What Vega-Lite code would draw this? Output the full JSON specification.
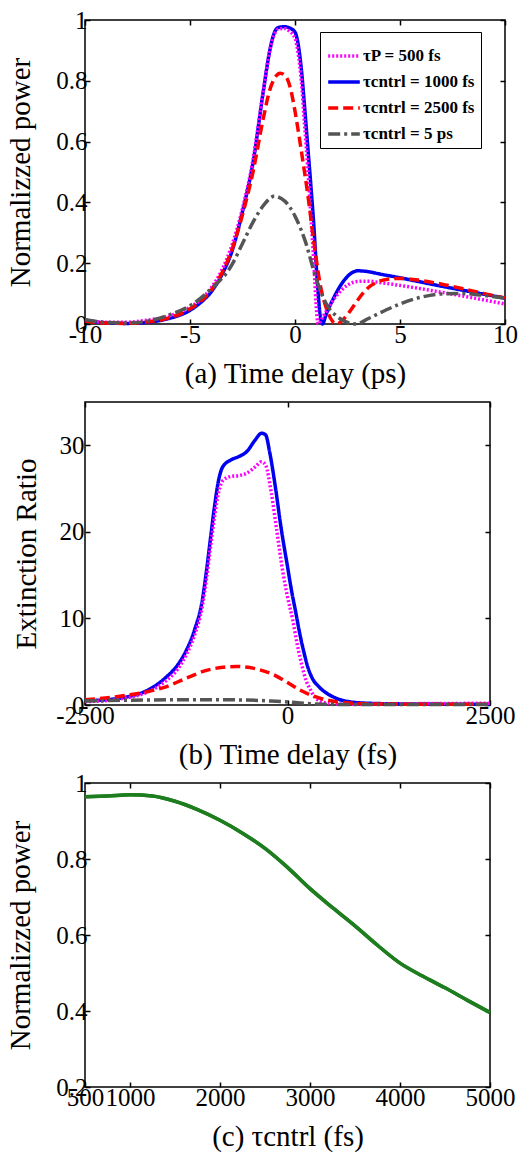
{
  "$schema": "https://vega.github.io/schema/vega-lite/v6.json",
  "background": "white",
  "padding": {"left": 6, "top": 7, "right": 0, "bottom": 0},
  "bounds": "flush",
  "spacing": 78,
  "config": {
    "font": "Liberation Serif, Times New Roman, serif",
    "view": {"stroke": "black", "strokeWidth": 1.5},
    "axis": {
      "domain": false, "grid": false, "tickColor": "black", "tickSize": -5, "tickWidth": 1.5,
      "labelFont": "Liberation Serif, Times New Roman, serif", "labelFontSize": 25, "labelColor": "black", "labelPadding": 3,
      "labelFlush": false, "labelOverlap": false, "labelBound": false,
      "titleFont": "Liberation Serif, Times New Roman, serif", "titleFontSize": 29, "titleFontWeight": "normal", "titleColor": "black", "titlePadding": 12
    },
    "axisLeft": {"titlePadding": 20},
    "line": {"strokeWidth": 3.5, "interpolate": "monotone"}
  },
  "datasets": {
    "a": [
      {"s": "c1000", "t": -10, "p": 0.012}, {"s": "c1000", "t": -9, "p": 0.004}, {"s": "c1000", "t": -8, "p": 0.002},
      {"s": "c1000", "t": -7, "p": 0.006}, {"s": "c1000", "t": -6, "p": 0.018}, {"s": "c1000", "t": -5, "p": 0.045},
      {"s": "c1000", "t": -4.5, "p": 0.07}, {"s": "c1000", "t": -4, "p": 0.105}, {"s": "c1000", "t": -3.5, "p": 0.16},
      {"s": "c1000", "t": -3, "p": 0.24}, {"s": "c1000", "t": -2.5, "p": 0.37}, {"s": "c1000", "t": -2, "p": 0.53},
      {"s": "c1000", "t": -1.5, "p": 0.77}, {"s": "c1000", "t": -1.2, "p": 0.9}, {"s": "c1000", "t": -1, "p": 0.955},
      {"s": "c1000", "t": -0.8, "p": 0.975}, {"s": "c1000", "t": -0.5, "p": 0.978}, {"s": "c1000", "t": -0.3, "p": 0.975},
      {"s": "c1000", "t": 0, "p": 0.96}, {"s": "c1000", "t": 0.15, "p": 0.92}, {"s": "c1000", "t": 0.3, "p": 0.84},
      {"s": "c1000", "t": 0.45, "p": 0.72}, {"s": "c1000", "t": 0.6, "p": 0.59}, {"s": "c1000", "t": 0.75, "p": 0.46},
      {"s": "c1000", "t": 0.9, "p": 0.32}, {"s": "c1000", "t": 1.05, "p": 0.15}, {"s": "c1000", "t": 1.2, "p": 0.03},
      {"s": "c1000", "t": 1.3, "p": 0.0}, {"s": "c1000", "t": 1.5, "p": 0.035}, {"s": "c1000", "t": 1.8, "p": 0.08},
      {"s": "c1000", "t": 2.2, "p": 0.13}, {"s": "c1000", "t": 2.6, "p": 0.163}, {"s": "c1000", "t": 3, "p": 0.175},
      {"s": "c1000", "t": 3.5, "p": 0.172}, {"s": "c1000", "t": 4, "p": 0.165}, {"s": "c1000", "t": 5, "p": 0.152},
      {"s": "c1000", "t": 6, "p": 0.138}, {"s": "c1000", "t": 7, "p": 0.124}, {"s": "c1000", "t": 8, "p": 0.111},
      {"s": "c1000", "t": 9, "p": 0.098}, {"s": "c1000", "t": 10, "p": 0.085},

      {"s": "p500", "t": -10, "p": 0.012}, {"s": "p500", "t": -9, "p": 0.006}, {"s": "p500", "t": -8, "p": 0.006},
      {"s": "p500", "t": -7, "p": 0.013}, {"s": "p500", "t": -6, "p": 0.026}, {"s": "p500", "t": -5, "p": 0.055},
      {"s": "p500", "t": -4.5, "p": 0.08}, {"s": "p500", "t": -4, "p": 0.118}, {"s": "p500", "t": -3.5, "p": 0.175},
      {"s": "p500", "t": -3, "p": 0.26}, {"s": "p500", "t": -2.5, "p": 0.38}, {"s": "p500", "t": -2, "p": 0.54},
      {"s": "p500", "t": -1.5, "p": 0.77}, {"s": "p500", "t": -1.2, "p": 0.9}, {"s": "p500", "t": -1, "p": 0.95},
      {"s": "p500", "t": -0.8, "p": 0.97}, {"s": "p500", "t": -0.5, "p": 0.972}, {"s": "p500", "t": -0.3, "p": 0.965},
      {"s": "p500", "t": 0, "p": 0.94}, {"s": "p500", "t": 0.15, "p": 0.89}, {"s": "p500", "t": 0.3, "p": 0.8},
      {"s": "p500", "t": 0.45, "p": 0.66}, {"s": "p500", "t": 0.6, "p": 0.52}, {"s": "p500", "t": 0.75, "p": 0.36},
      {"s": "p500", "t": 0.9, "p": 0.2}, {"s": "p500", "t": 1.0, "p": 0.07}, {"s": "p500", "t": 1.1, "p": 0.0},
      {"s": "p500", "t": 1.3, "p": 0.02}, {"s": "p500", "t": 1.6, "p": 0.055}, {"s": "p500", "t": 2, "p": 0.095},
      {"s": "p500", "t": 2.5, "p": 0.128}, {"s": "p500", "t": 3, "p": 0.14}, {"s": "p500", "t": 3.5, "p": 0.141},
      {"s": "p500", "t": 4, "p": 0.137}, {"s": "p500", "t": 5, "p": 0.127}, {"s": "p500", "t": 6, "p": 0.116},
      {"s": "p500", "t": 7, "p": 0.104}, {"s": "p500", "t": 8, "p": 0.092}, {"s": "p500", "t": 9, "p": 0.079},
      {"s": "p500", "t": 10, "p": 0.066},

      {"s": "c2500", "t": -10, "p": 0.01}, {"s": "c2500", "t": -9, "p": 0.003}, {"s": "c2500", "t": -8, "p": 0.002},
      {"s": "c2500", "t": -7, "p": 0.007}, {"s": "c2500", "t": -6, "p": 0.02}, {"s": "c2500", "t": -5, "p": 0.05},
      {"s": "c2500", "t": -4, "p": 0.11}, {"s": "c2500", "t": -3.5, "p": 0.165}, {"s": "c2500", "t": -3, "p": 0.245},
      {"s": "c2500", "t": -2.5, "p": 0.36}, {"s": "c2500", "t": -2, "p": 0.5}, {"s": "c2500", "t": -1.5, "p": 0.68},
      {"s": "c2500", "t": -1.2, "p": 0.77}, {"s": "c2500", "t": -1, "p": 0.805}, {"s": "c2500", "t": -0.7, "p": 0.825},
      {"s": "c2500", "t": -0.4, "p": 0.81}, {"s": "c2500", "t": -0.2, "p": 0.77}, {"s": "c2500", "t": 0, "p": 0.7},
      {"s": "c2500", "t": 0.3, "p": 0.57}, {"s": "c2500", "t": 0.6, "p": 0.43}, {"s": "c2500", "t": 0.9, "p": 0.27},
      {"s": "c2500", "t": 1.2, "p": 0.13}, {"s": "c2500", "t": 1.5, "p": 0.05}, {"s": "c2500", "t": 1.8, "p": 0.008},
      {"s": "c2500", "t": 2, "p": 0.0}, {"s": "c2500", "t": 2.3, "p": 0.015}, {"s": "c2500", "t": 2.7, "p": 0.05},
      {"s": "c2500", "t": 3, "p": 0.08}, {"s": "c2500", "t": 3.5, "p": 0.12}, {"s": "c2500", "t": 4, "p": 0.14},
      {"s": "c2500", "t": 4.5, "p": 0.148}, {"s": "c2500", "t": 5, "p": 0.15}, {"s": "c2500", "t": 6, "p": 0.143},
      {"s": "c2500", "t": 7, "p": 0.131}, {"s": "c2500", "t": 8, "p": 0.116}, {"s": "c2500", "t": 9, "p": 0.1},
      {"s": "c2500", "t": 10, "p": 0.086},

      {"s": "c5ps", "t": -10, "p": 0.015}, {"s": "c5ps", "t": -9, "p": 0.005}, {"s": "c5ps", "t": -8, "p": 0.003},
      {"s": "c5ps", "t": -7, "p": 0.01}, {"s": "c5ps", "t": -6, "p": 0.03}, {"s": "c5ps", "t": -5, "p": 0.06},
      {"s": "c5ps", "t": -4, "p": 0.115}, {"s": "c5ps", "t": -3, "p": 0.195}, {"s": "c5ps", "t": -2.5, "p": 0.265},
      {"s": "c5ps", "t": -2, "p": 0.335}, {"s": "c5ps", "t": -1.5, "p": 0.39}, {"s": "c5ps", "t": -1, "p": 0.42},
      {"s": "c5ps", "t": -0.5, "p": 0.405}, {"s": "c5ps", "t": 0, "p": 0.355}, {"s": "c5ps", "t": 0.5, "p": 0.27},
      {"s": "c5ps", "t": 1, "p": 0.15}, {"s": "c5ps", "t": 1.5, "p": 0.065}, {"s": "c5ps", "t": 2, "p": 0.025},
      {"s": "c5ps", "t": 2.5, "p": 0.005}, {"s": "c5ps", "t": 2.9, "p": 0.0}, {"s": "c5ps", "t": 3.5, "p": 0.018},
      {"s": "c5ps", "t": 4, "p": 0.035}, {"s": "c5ps", "t": 5, "p": 0.066}, {"s": "c5ps", "t": 6, "p": 0.088},
      {"s": "c5ps", "t": 7, "p": 0.099}, {"s": "c5ps", "t": 8, "p": 0.1}, {"s": "c5ps", "t": 9, "p": 0.094},
      {"s": "c5ps", "t": 10, "p": 0.085}
    ],
    "b": [
      {"s": "c1000", "t": -2500, "r": 0.5}, {"s": "c1000", "t": -2250, "r": 0.6}, {"s": "c1000", "t": -2000, "r": 0.9},
      {"s": "c1000", "t": -1750, "r": 1.6}, {"s": "c1000", "t": -1500, "r": 3.2}, {"s": "c1000", "t": -1350, "r": 4.7},
      {"s": "c1000", "t": -1250, "r": 6.3}, {"s": "c1000", "t": -1150, "r": 8.6}, {"s": "c1000", "t": -1050, "r": 12.2},
      {"s": "c1000", "t": -1000, "r": 15.5}, {"s": "c1000", "t": -950, "r": 19.3}, {"s": "c1000", "t": -900, "r": 23},
      {"s": "c1000", "t": -850, "r": 26}, {"s": "c1000", "t": -800, "r": 27.5}, {"s": "c1000", "t": -700, "r": 28.3},
      {"s": "c1000", "t": -600, "r": 28.7}, {"s": "c1000", "t": -500, "r": 29.3}, {"s": "c1000", "t": -400, "r": 30.6},
      {"s": "c1000", "t": -320, "r": 31.4}, {"s": "c1000", "t": -270, "r": 31.2}, {"s": "c1000", "t": -220, "r": 29.2},
      {"s": "c1000", "t": -150, "r": 25.2}, {"s": "c1000", "t": -80, "r": 20.5}, {"s": "c1000", "t": 0, "r": 16},
      {"s": "c1000", "t": 50, "r": 13.2}, {"s": "c1000", "t": 100, "r": 10.8}, {"s": "c1000", "t": 150, "r": 8.3},
      {"s": "c1000", "t": 200, "r": 6.2}, {"s": "c1000", "t": 250, "r": 4.4}, {"s": "c1000", "t": 300, "r": 3.2},
      {"s": "c1000", "t": 400, "r": 2.0}, {"s": "c1000", "t": 550, "r": 1.0}, {"s": "c1000", "t": 750, "r": 0.4},
      {"s": "c1000", "t": 1000, "r": 0.2}, {"s": "c1000", "t": 1500, "r": 0.12}, {"s": "c1000", "t": 2000, "r": 0.1},
      {"s": "c1000", "t": 2500, "r": 0.1},

      {"s": "p500", "t": -2500, "r": 0.4}, {"s": "p500", "t": -2250, "r": 0.5}, {"s": "p500", "t": -2000, "r": 0.8},
      {"s": "p500", "t": -1750, "r": 1.4}, {"s": "p500", "t": -1500, "r": 2.8}, {"s": "p500", "t": -1350, "r": 4.2},
      {"s": "p500", "t": -1250, "r": 5.8}, {"s": "p500", "t": -1150, "r": 8}, {"s": "p500", "t": -1050, "r": 11.5},
      {"s": "p500", "t": -1000, "r": 14.6}, {"s": "p500", "t": -950, "r": 18.3}, {"s": "p500", "t": -900, "r": 21.8},
      {"s": "p500", "t": -850, "r": 24.6}, {"s": "p500", "t": -800, "r": 25.9}, {"s": "p500", "t": -700, "r": 26.4},
      {"s": "p500", "t": -600, "r": 26.5}, {"s": "p500", "t": -500, "r": 26.8}, {"s": "p500", "t": -400, "r": 27.5},
      {"s": "p500", "t": -320, "r": 28.1}, {"s": "p500", "t": -270, "r": 27.7}, {"s": "p500", "t": -200, "r": 24.5},
      {"s": "p500", "t": -130, "r": 20}, {"s": "p500", "t": -60, "r": 15.5}, {"s": "p500", "t": 0, "r": 12.5},
      {"s": "p500", "t": 65, "r": 9.8}, {"s": "p500", "t": 120, "r": 7}, {"s": "p500", "t": 180, "r": 4.5},
      {"s": "p500", "t": 230, "r": 2.8}, {"s": "p500", "t": 270, "r": 2.0}, {"s": "p500", "t": 330, "r": 1.0},
      {"s": "p500", "t": 400, "r": 0.45}, {"s": "p500", "t": 500, "r": 0.2}, {"s": "p500", "t": 700, "r": 0.1},
      {"s": "p500", "t": 1000, "r": 0.1}, {"s": "p500", "t": 1500, "r": 0.15}, {"s": "p500", "t": 2000, "r": 0.18},
      {"s": "p500", "t": 2500, "r": 0.2},

      {"s": "c2500", "t": -2500, "r": 0.6}, {"s": "c2500", "t": -2250, "r": 0.8}, {"s": "c2500", "t": -2000, "r": 1.1},
      {"s": "c2500", "t": -1750, "r": 1.5}, {"s": "c2500", "t": -1500, "r": 2.1}, {"s": "c2500", "t": -1250, "r": 3.1},
      {"s": "c2500", "t": -1000, "r": 4.0}, {"s": "c2500", "t": -800, "r": 4.35}, {"s": "c2500", "t": -625, "r": 4.45},
      {"s": "c2500", "t": -450, "r": 4.3}, {"s": "c2500", "t": -300, "r": 3.95}, {"s": "c2500", "t": -150, "r": 3.4},
      {"s": "c2500", "t": 0, "r": 2.6}, {"s": "c2500", "t": 150, "r": 1.75}, {"s": "c2500", "t": 300, "r": 1.1},
      {"s": "c2500", "t": 450, "r": 0.65}, {"s": "c2500", "t": 600, "r": 0.38}, {"s": "c2500", "t": 800, "r": 0.2},
      {"s": "c2500", "t": 1000, "r": 0.13}, {"s": "c2500", "t": 1500, "r": 0.1}, {"s": "c2500", "t": 2000, "r": 0.1},
      {"s": "c2500", "t": 2500, "r": 0.1},

      {"s": "c5ps", "t": -2500, "r": 0.45}, {"s": "c5ps", "t": -2000, "r": 0.55}, {"s": "c5ps", "t": -1500, "r": 0.6},
      {"s": "c5ps", "t": -1000, "r": 0.62}, {"s": "c5ps", "t": -500, "r": 0.57}, {"s": "c5ps", "t": -200, "r": 0.46},
      {"s": "c5ps", "t": 0, "r": 0.35}, {"s": "c5ps", "t": 200, "r": 0.2}, {"s": "c5ps", "t": 400, "r": 0.1},
      {"s": "c5ps", "t": 700, "r": 0.06}, {"s": "c5ps", "t": 1000, "r": 0.05}, {"s": "c5ps", "t": 2500, "r": 0.05}
    ],
    "c": [
      {"w": 500, "p": 0.964}, {"w": 750, "p": 0.966}, {"w": 1000, "p": 0.969}, {"w": 1250, "p": 0.966},
      {"w": 1500, "p": 0.952}, {"w": 1750, "p": 0.93}, {"w": 2000, "p": 0.902}, {"w": 2250, "p": 0.868},
      {"w": 2500, "p": 0.828}, {"w": 2750, "p": 0.778}, {"w": 3000, "p": 0.722}, {"w": 3250, "p": 0.672},
      {"w": 3500, "p": 0.624}, {"w": 3750, "p": 0.573}, {"w": 4000, "p": 0.526}, {"w": 4250, "p": 0.492},
      {"w": 4500, "p": 0.461}, {"w": 4750, "p": 0.428}, {"w": 5000, "p": 0.396}
    ]
  },
  "vconcat": [
    {
      "width": 420, "height": 304,
      "data": {"name": "a"},
      "layer": [
        {
          "transform": [{"filter": "datum.s != 'c5ps'"}],
          "mark": "line",
          "encoding": {
            "x": {"field": "t", "type": "quantitative", "scale": {"domain": [-10, 10], "nice": false},
                  "axis": {"values": [-10, -5, 0, 5, 10], "labelExpr": "replace(datum.label, '−', '-')", "title": "(a) Time delay (ps)"}},
            "y": {"field": "p", "type": "quantitative", "scale": {"domain": [0, 1], "nice": false},
                  "axis": {"values": [0, 0.2, 0.4, 0.6, 0.8, 1], "format": "~g", "title": "Normalizzed power"}},
            "color": {"field": "s", "type": "nominal",
                      "scale": {"domain": ["p500", "c1000", "c2500", "c5ps"], "range": ["#ff00ff", "#0000f0", "#ff0000", "#555555"]},
                      "legend": {"title": null, "orient": "none", "legendX": 235, "legendY": 12,
                                 "strokeColor": "black", "fillColor": "white", "padding": 6, "rowPadding": -4,
                                 "symbolType": "stroke", "symbolSize": 1000, "symbolStrokeWidth": 3.5,
                                 "labelFont": "Liberation Serif, Times New Roman, serif", "labelFontWeight": "bold", "labelFontSize": 17, "labelColor": "black", "labelOffset": 1,
                                 "labelExpr": "datum.value == 'p500' ? 'τP = 500 fs' : datum.value == 'c1000' ? 'τcntrl = 1000 fs' : datum.value == 'c2500' ? 'τcntrl = 2500 fs' : 'τcntrl = 5 ps'"}},
            "strokeDash": {"field": "s", "type": "nominal",
                           "scale": {"domain": ["p500", "c1000", "c2500", "c5ps"], "range": [[2, 2], [1, 0], [10, 5], [12, 4, 3, 4]]},
                           "legend": {"title": null, "orient": "none", "legendX": 235, "legendY": 12,
                                 "strokeColor": "black", "fillColor": "white", "padding": 6, "rowPadding": -4,
                                 "symbolType": "stroke", "symbolSize": 1000, "symbolStrokeWidth": 3.5,
                                 "labelFont": "Liberation Serif, Times New Roman, serif", "labelFontWeight": "bold", "labelFontSize": 17, "labelColor": "black", "labelOffset": 1,
                                 "labelExpr": "datum.value == 'p500' ? 'τP = 500 fs' : datum.value == 'c1000' ? 'τcntrl = 1000 fs' : datum.value == 'c2500' ? 'τcntrl = 2500 fs' : 'τcntrl = 5 ps'"}}
          }
        },
        {
          "transform": [{"filter": "datum.s == 'c5ps'"}],
          "mark": "line",
          "encoding": {
            "x": {"field": "t", "type": "quantitative", "axis": {"orient": "top", "values": [-10, -5, 0, 5, 10], "labels": false, "title": null}},
            "y": {"field": "p", "type": "quantitative", "axis": {"orient": "right", "values": [0, 0.2, 0.4, 0.6, 0.8, 1], "labels": false, "title": null}},
            "color": {"field": "s", "type": "nominal"},
            "strokeDash": {"field": "s", "type": "nominal"}
          }
        }
      ],
      "resolve": {"axis": {"x": "independent", "y": "independent"}}
    },
    {
      "width": 405, "height": 303,
      "data": {"name": "b"},
      "layer": [
        {
          "transform": [{"filter": "datum.s != 'c5ps'"}],
          "mark": "line",
          "encoding": {
            "x": {"field": "t", "type": "quantitative", "scale": {"domain": [-2500, 2500], "nice": false},
                  "axis": {"values": [-2500, 0, 2500], "format": "d", "labelExpr": "replace(datum.label, '−', '-')", "title": "(b) Time delay (fs)"}},
            "y": {"field": "r", "type": "quantitative", "scale": {"domain": [0, 35], "nice": false},
                  "axis": {"values": [0, 10, 20, 30], "labelPadding": 6, "titlePadding": 18, "title": "Extinction Ratio"}},
            "color": {"field": "s", "type": "nominal",
                      "scale": {"domain": ["p500", "c1000", "c2500", "c5ps"], "range": ["#ff00ff", "#0000f0", "#ff0000", "#555555"]},
                      "legend": null},
            "strokeDash": {"field": "s", "type": "nominal",
                           "scale": {"domain": ["p500", "c1000", "c2500", "c5ps"], "range": [[2, 2], [1, 0], [10, 5], [12, 4, 3, 4]]},
                           "legend": null}
          }
        },
        {
          "transform": [{"filter": "datum.s == 'c5ps'"}],
          "mark": "line",
          "encoding": {
            "x": {"field": "t", "type": "quantitative", "axis": {"orient": "top", "values": [-2500, 0, 2500], "labels": false, "title": null}},
            "y": {"field": "r", "type": "quantitative", "axis": {"orient": "right", "values": [0, 10, 20, 30], "labels": false, "title": null}},
            "color": {"field": "s", "type": "nominal", "legend": null},
            "strokeDash": {"field": "s", "type": "nominal", "legend": null}
          }
        }
      ],
      "resolve": {"axis": {"x": "independent", "y": "independent"}}
    },
    {
      "width": 405, "height": 304,
      "data": {"name": "c"},
      "layer": [
        {
          "mark": {"type": "line", "color": "#1e7d1e"},
          "encoding": {
            "x": {"field": "w", "type": "quantitative", "scale": {"domain": [500, 5000], "nice": false},
                  "axis": {"values": [500, 1000, 2000, 3000, 4000, 5000], "format": "d", "title": "(c) τcntrl (fs)"}},
            "y": {"field": "p", "type": "quantitative", "scale": {"domain": [0.2, 1], "nice": false},
                  "axis": {"values": [0.2, 0.4, 0.6, 0.8, 1], "format": "~g", "title": "Normalizzed power"}}
          }
        },
        {
          "mark": {"type": "line", "color": "#1e7d1e"},
          "encoding": {
            "x": {"field": "w", "type": "quantitative", "axis": {"orient": "top", "values": [1000, 2000, 3000, 4000, 5000], "labels": false, "title": null}},
            "y": {"field": "p", "type": "quantitative", "axis": {"orient": "right", "values": [0.2, 0.4, 0.6, 0.8, 1], "labels": false, "title": null}}
          }
        }
      ],
      "resolve": {"axis": {"x": "independent", "y": "independent"}}
    }
  ]
}
